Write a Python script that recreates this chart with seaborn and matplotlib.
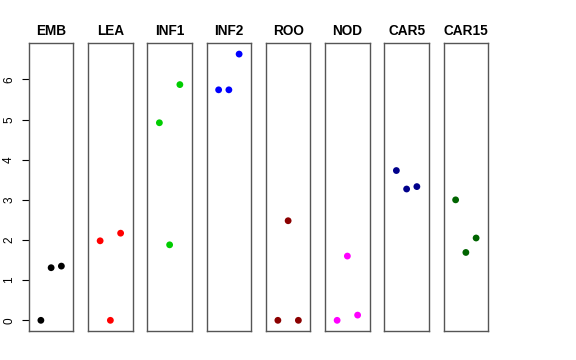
import matplotlib
matplotlib.use("Agg")
import matplotlib.pyplot as plt
import seaborn as sns
import pandas as pd

tissues = ["EMB", "LEA", "INF1", "INF2", "ROO", "NOD", "CAR5", "CAR15"]
colors = ["#000000", "#FF0000", "#00CD00", "#0000FF", "#8B0000", "#FF00FF", "#00008B", "#006400"]
replicate = [1, 2, 3]
emb = [0.0, 1.31, 1.35]
lea = [1.98, 0.0, 2.17]
inf1 = [4.92, 1.88, 5.87]
inf2 = [5.74, 5.74, 6.63]
roo = [0.0, 2.48, 0.0]
nod = [0.0, 1.60, 0.13]
car5 = [3.73, 3.27, 3.33]
car15 = [3.00, 1.69, 2.05]
values = [emb, lea, inf1, inf2, roo, nod, car5, car15]
yticks = [0, 1, 2, 3, 4, 5, 6]

rows = []
for t, vals in zip(tissues, values):
    for r, v in zip(replicate, vals):
        rows.append({"tissue": t, "rep": r, "value": v})
df = pd.DataFrame(rows)

sns.set_style("white")
plt.rcParams["font.family"] = ["Liberation Sans", "DejaVu Sans"]
plt.rcParams["text.color"] = "black"
plt.rcParams["ytick.color"] = "black"
plt.rcParams["ytick.labelcolor"] = "black"

fig, axes = plt.subplots(1, 8, figsize=(5.76, 3.6), dpi=100, sharey=True)
fig.subplots_adjust(left=29/576, right=488/576, top=1-43/360, bottom=1-331/360, wspace=0.3386)

for i, (ax, t, c) in enumerate(zip(axes, tissues, colors)):
    sub = df[df["tissue"] == t]
    sns.scatterplot(data=sub, x="rep", y="value", color=c, s=24, edgecolor="none", ax=ax, legend=False)
    ax.set_xlim(-0.16, 4.16)
    ax.set_ylim(-0.266, 6.906)
    ax.set_xticks([])
    ax.set_xlabel("")
    ax.set_ylabel("")
    ax.set_title(t, fontsize=9.8, fontweight="bold", pad=6, color="black")
    for sp in ax.spines.values():
        sp.set_visible(True)
        sp.set_color("#555555")
        sp.set_linewidth(1.0)
    if i == 0:
        ax.set_yticks(yticks)
        ax.set_yticklabels([str(v) for v in yticks], rotation=90, va="center", fontsize=8.5, color="black")
        ax.tick_params(axis="y", left=True, length=5, width=0.8, color="black", pad=5)
    else:
        ax.tick_params(axis="y", left=False, labelleft=False)

fig.savefig("out.png", dpi=100)
